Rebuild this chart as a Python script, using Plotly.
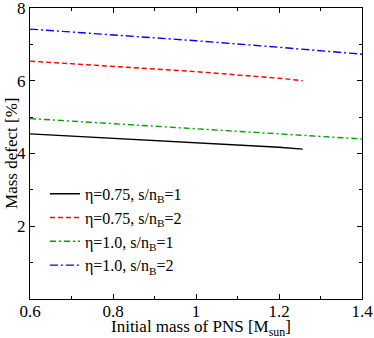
import plotly.graph_objects as go

mass_a = [0.6, 0.8, 1.0, 1.2, 1.257]
defect_075_1 = [4.54, 4.42, 4.30, 4.17, 4.12]
defect_075_2 = [6.54, 6.40, 6.25, 6.07, 6.0]
mass_b = [0.6, 0.8, 1.0, 1.2, 1.4]
defect_10_1 = [4.96, 4.83, 4.68, 4.54, 4.40]
defect_10_2 = [7.42, 7.27, 7.10, 6.92, 6.73]

names = ["η=0.75, s/n<sub>B</sub>=1", "η=0.75, s/n<sub>B</sub>=2",
         "η=1.0, s/n<sub>B</sub>=1", "η=1.0, s/n<sub>B</sub>=2"]
x_title = "Initial mass of PNS [M<sub>sun</sub>]"
y_title = "Mass defect [%]"

fig = go.Figure()
fig.add_trace(go.Scatter(x=mass_a, y=defect_075_1, mode="lines", name=names[0],
                         line=dict(color="black", width=1.4, dash="solid")))
fig.add_trace(go.Scatter(x=mass_a, y=defect_075_2, mode="lines", name=names[1],
                         line=dict(color="red", width=1.4, dash="5px,3px")))
fig.add_trace(go.Scatter(x=mass_b, y=defect_10_1, mode="lines", name=names[2],
                         line=dict(color="#00a000", width=1.4, dash="6px,3px,2px,3px")))
fig.add_trace(go.Scatter(x=mass_b, y=defect_10_2, mode="lines", name=names[3],
                         line=dict(color="blue", width=1.4, dash="8px,3px,2px,3px")))

axis_common = dict(showgrid=False, zeroline=False, showline=True, linecolor="black",
                   linewidth=1, mirror="ticks", ticks="inside", ticklen=5,
                   tickcolor="black", tickfont=dict(size=17, color="black"),
                   automargin=False, ticklabeloverflow="allow")

fig.update_xaxes(range=[0.6, 1.4], tickvals=[0.6, 0.8, 1.0, 1.2, 1.4],
                 ticktext=["0.6", "0.8", "1", "1.2", "1.4"], ticklabelstandoff=-3,
                 minor=dict(tickvals=[0.7, 0.9, 1.1, 1.3], ticks="inside", ticklen=3, tickcolor="black"),
                 **axis_common)
fig.update_yaxes(range=[0, 8], tickvals=[2, 4, 6, 8],
                 minor=dict(tickvals=[1, 3, 5, 7], ticks="inside", ticklen=3, tickcolor="black"),
                 **axis_common)

fig.add_annotation(text=x_title, xref="paper", yref="paper", x=0.515, y=-0.141,
                   xanchor="center", yanchor="bottom", showarrow=False, borderpad=0,
                   font=dict(size=17, color="black"))
fig.add_annotation(text=y_title, xref="paper", yref="paper", x=-0.056, y=0.5,
                   xanchor="center", yanchor="middle", textangle=-90, showarrow=False,
                   font=dict(size=17, color="black"))

fig.update_layout(
    width=374, height=338,
    margin=dict(l=30, r=12, t=8, b=39),
    paper_bgcolor="white", plot_bgcolor="white",
    font=dict(family="Liberation Serif, Times New Roman, serif", size=16, color="black"),
    showlegend=True,
    legend=dict(x=0.045, y=0.42, xanchor="left", yanchor="top", bgcolor="rgba(0,0,0,0)",
                font=dict(size=16), tracegroupgap=0, itemwidth=30),
)

fig.write_html("out.html", config={"displayModeBar": False},
               post_script="document.body.style.margin='0';")
